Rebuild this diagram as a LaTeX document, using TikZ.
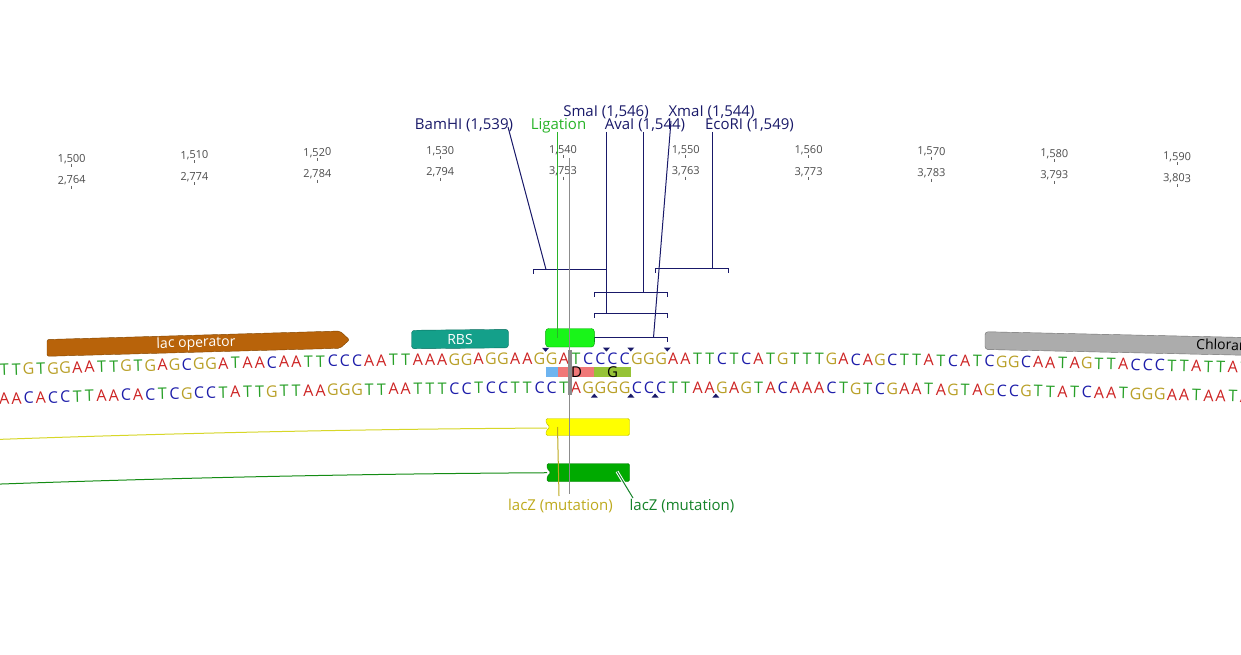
\documentclass[tikz,border=0pt]{standalone}
\usepackage{fontspec}
\setmainfont{Open Sans}
\usepackage{tikz}
\usetikzlibrary{arrows}

\definecolor{ntA}{RGB}{205,35,35}
\definecolor{ntC}{RGB}{30,30,170}
\definecolor{ntG}{RGB}{185,160,40}
\definecolor{ntT}{RGB}{40,160,40}
\definecolor{enzblue}{RGB}{25,25,105}
\definecolor{ligtext}{RGB}{40,180,40}
\definecolor{liggreen}{RGB}{25,245,25}
\definecolor{ligedge}{RGB}{0,165,0}
\definecolor{lacbrown}{RGB}{184,99,10}
\definecolor{lacedge}{RGB}{130,70,0}
\definecolor{rbsteal}{RGB}{20,160,138}
\definecolor{rbsedge}{RGB}{10,110,95}
\definecolor{cmgray}{RGB}{172,172,172}
\definecolor{cmedge}{RGB}{110,110,110}
\definecolor{aablue}{RGB}{110,180,240}
\definecolor{aared}{RGB}{240,120,120}
\definecolor{aagreen}{RGB}{150,195,55}
\definecolor{yfill}{RGB}{255,255,0}
\definecolor{yedge}{RGB}{190,190,0}
\definecolor{yline}{RGB}{215,215,40}
\definecolor{ytext}{RGB}{190,170,30}
\definecolor{gfill}{RGB}{0,170,0}
\definecolor{gedge}{RGB}{0,120,0}
\definecolor{gline}{RGB}{20,140,20}
\definecolor{gtext}{RGB}{20,130,40}
\definecolor{cursorgray}{RGB}{140,140,140}

\def\cmpA{T}\def\cmpT{A}\def\cmpG{C}\def\cmpC{G}
\def\fmt#1#2#3#4{#1,#2#3#4}
\newcommand{\sag}[1]{0.27*((#1-657)/100)^2}

\tikzset{
	nt/.style={inner sep=0pt,anchor=base,font=\fontsize{16}{16}\selectfont},
	ruler/.style={inner sep=0pt,anchor=base,text=black!70,font=\fontsize{11}{11}\selectfont},
	enz/.style={inner sep=0pt,anchor=base,text=enzblue,font=\fontsize{15}{15}\selectfont},
	lead/.style={draw=enzblue,line width=1pt},
	feat/.style={inner sep=0pt,font=\fontsize{14}{14}\selectfont},
}

\begin{document}
\begin{tikzpicture}[x=1pt,y=-1pt]
		\useasboundingbox (0,0) rectangle (1241,655);
		\clip (0,0) rectangle (1241,655);
		\path[fill=white] (0,0) rectangle (1241,655);

		% ruler
		\foreach \a/\b [count=\i from 0] in {1500/2764,1510/2774,1520/2784,1530/2794,1540/3753,1550/3763,1560/3773,1570/3783,1580/3793,1590/3803}{
			\pgfmathsetmacro\x{563+(\i-4)*122.8}
			\pgfmathsetmacro\r{0.0031*(657-\x)}
			\node[ruler,rotate=\r] (top\i) at (\x,{153+\sag{\x}}) {\expandafter\fmt\a};
			\node[ruler,rotate=\r] (bot\i) at (\x,{174.5+\sag{\x}}) {\expandafter\fmt\b};
			\draw[black!60,line width=0.8pt] (\x,{154.5+\sag{\x}}) -- ++(0,3);
			\draw[black!60,line width=0.8pt] (\x,{176.5+\sag{\x}}) -- ++(0,3);
		}

		% enzyme labels
		\node[enz] (smai) at (606,116.5) {SmaI (1,546)};
		\node[enz] (xmai) at (711.5,116.5) {XmaI (1,544)};
		\node[enz] (bamhi) at (464,130) {BamHI (1,539)};
		\node[enz,text=ligtext] (lig) at (558.5,130) {Ligation};
		\node[enz] (avai) at (645,130) {AvaI (1,544)};
		\node[enz] (ecori) at (749.5,130) {EcoRI (1,549)};

		\coordinate (bamhiA) at (508,127);	\coordinate (bamhiB) at (546,269.5);
		\coordinate (smaiA) at (606.5,132);	\coordinate (smaiB) at (606.5,313.5);
		\coordinate (avaiA) at (643.5,132);	\coordinate (avaiB) at (643.5,292.5);
		\coordinate (xmaiA) at (671,121);	\coordinate (xmaiB) at (653.5,337.5);
		\coordinate (ecoriA) at (712.5,132);	\coordinate (ecoriB) at (712.5,268.5);
		\coordinate (ligA) at (557.5,132);	\coordinate (ligB) at (557.5,338);

		\draw[lead] (bamhiA) -- (bamhiB);
		\draw[lead] (smaiA) -- (smaiB);
		\draw[lead] (avaiA) -- (avaiB);
		\draw[lead] (xmaiA) -- (xmaiB);
		\draw[lead] (ecoriA) -- (ecoriB);

		% brackets
		\draw[lead] (533.5,273.5) -- (533.5,269.5) -- (606.5,269.5) -- (606.5,273.5);
		\draw[lead] (655.5,272.5) -- (655.5,268.5) -- (728.5,268.5) -- (728.5,272.5);
		\draw[lead] (594.5,296.5) -- (594.5,292.5) -- (667.5,292.5) -- (667.5,296.5);
		\draw[lead] (594.5,317.5) -- (594.5,313.5) -- (667.5,313.5) -- (667.5,317.5);
		\draw[lead] (594.5,341.5) -- (594.5,337.5) -- (667.5,337.5) -- (667.5,341.5);

		% features
		\path[draw=lacedge,fill=lacbrown,rounded corners=2pt] (47,339.5) -- (340,331) -- (349.5,339.8) -- (340,348.3) -- (47,356.3) -- cycle;
		\node[feat,text=white,rotate=1.6] (lacop) at (196,343.5) {lac operator};
		\path[draw=rbsedge,fill=rbsteal,rounded corners=3pt] (411.5,330.3) -- (508.5,329.3) -- (508.5,347.8) -- (411.5,348.8) -- cycle;
		\node[feat,text=white] (rbs) at (460,339) {RBS};
		\path[draw=ligedge,fill=liggreen,rounded corners=3pt] (545.6,328.5) -- (594.3,328.5) -- (594.3,347) -- (545.6,347) -- cycle;
		\path[draw=cmedge,fill=cmgray,rounded corners=3pt] (985,331.7) -- (1260,337.8) -- (1260,355.6) -- (985,349.5) -- cycle;
		\node[feat,anchor=base west,rotate=-1.3] (cm) at (1196,349.3) {Chloramphenicol};

		\draw[ligtext,line width=1pt] (ligA) -- (ligB);

		% sequence
		\foreach \s [count=\i] in {T,T,G,T,G,G,A,A,T,T,G,T,G,A,G,C,G,G,A,T,A,A,C,A,A,T,T,C,C,C,A,A,T,T,A,A,A,G,G,A,G,G,A,A,G,G,A,T,C,C,C,C,G,G,G,A,A,T,T,C,T,C,A,T,G,T,T,T,G,A,C,A,G,C,T,T,A,T,C,A,T,C,G,G,C,A,A,T,A,G,T,T,A,C,C,C,T,T,A,T,T,A,T}{
			\pgfmathsetmacro\x{4.5+(\i-1)*12.16}
			\pgfmathsetmacro\r{0.0031*(657-\x)}
			\edef\c{\csname cmp\s\endcsname}
			\node[nt,text=nt\s,rotate=\r] (t\i) at (\x,{364+\sag{\x}}) {\s};
			\node[nt,text=nt\c,rotate=\r] (b\i) at (\x,{393+\sag{\x}}) {\c};
		}

		% cut marks
		\foreach \x in {545.6,606.4,630.8,667.3}
			\path[fill=enzblue] ({\x-3.5},{347.5+\sag{\x}}) -- ++(7,0) -- ++(-3.5,4) -- cycle;
		\foreach \x in {594.3,630.8,655.1,715.8}
			\path[fill=enzblue] ({\x-3.5},{397.5+\sag{\x}}) -- ++(7,0) -- ++(-3.5,-4) -- cycle;

		% translation
		\path[fill=aablue] (545.6,367) rectangle (557.8,377);
		\path[fill=aared] (557.8,367) rectangle (594.3,377);
		\path[fill=aagreen] (594.3,367) rectangle (630.8,377);
		\node[feat,font=\fontsize{15}{15}\selectfont] (resD) at (576.5,372) {D};
		\node[feat,font=\fontsize{15}{15}\selectfont] (resG) at (612.5,372) {G};

		% lacZ (mutation)
		\draw[yline,line width=1pt] plot[domain=0:547,samples=30] (\x,{427.7+\sag{\x}});
		\path[draw=yedge,fill=yfill,rounded corners=1.5pt] (546,418.5) -- (629.5,418.5) -- (629.5,435.5) -- (546,435.5) -- (546,431) -- (550,427) -- (546,423) -- cycle;
		\draw[gline,line width=1pt] plot[domain=0:547,samples=30] (\x,{472.4+\sag{\x}});
		\path[draw=gedge,fill=gfill,rounded corners=1.5pt] (547,463.5) -- (629.5,463.5) -- (629.5,481.5) -- (547,481.5) -- (547,476.5) -- (551,472.5) -- (547,468.5) -- cycle;

		% cursor
		\draw[cursorgray,line width=1pt] (569.5,158) -- (569.5,494);
		\path[fill=cursorgray] (567.8,350) rectangle (571.8,395);

		\node[enz,text=ytext] (laczy) at (560.5,510) {lacZ (mutation)};
		\node[enz,text=gtext] (laczg) at (682,510) {lacZ (mutation)};
		\coordinate (laczyA) at (559,496);	\coordinate (laczyB) at (557.5,427);
		\coordinate (laczgA) at (633,498);	\coordinate (laczgB) at (617,471.5);
		\draw[ytext,line width=1pt] (laczyA) -- (laczyB);
		\draw[white,line width=3pt] (laczgA) -- (laczgB);
		\draw[gtext,line width=1pt] (laczgA) -- (laczgB);
	\end{tikzpicture}
\end{document}
